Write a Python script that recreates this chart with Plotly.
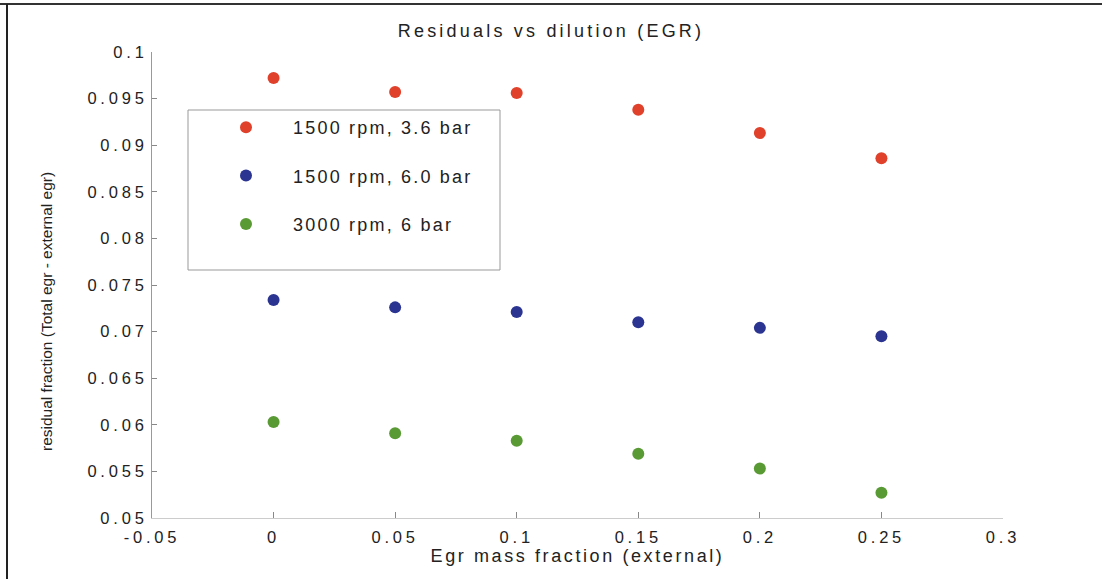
import plotly.graph_objects as go

egr = [0, 0.05, 0.1, 0.15, 0.2, 0.25]
names = ["1500 rpm, 3.6 bar", "1500 rpm, 6.0 bar", "3000 rpm, 6 bar"]
res_1500_36 = [0.0972, 0.0957, 0.0956, 0.0938, 0.0913, 0.0886]
res_1500_60 = [0.0734, 0.0726, 0.0721, 0.0710, 0.0704, 0.0695]
res_3000_6 = [0.0603, 0.0591, 0.0583, 0.0569, 0.0553, 0.0527]
colors = ["#e0412b", "#2b3591", "#5a9a35"]
x_ticks = [-0.05, 0, 0.05, 0.1, 0.15, 0.2, 0.25, 0.3]
x_labels = ["-0.05", "0", "0.05", "0.1", "0.15", "0.2", "0.25", "0.3"]
y_ticks = [0.05, 0.055, 0.06, 0.065, 0.07, 0.075, 0.08, 0.085, 0.09, 0.095, 0.1]
y_labels = ["0.05", "0.055", "0.06", "0.065", "0.07", "0.075", "0.08",
            "0.085", "0.09", "0.095", "0.1"]
y_title = "residual fraction (Total egr - external egr)"

W, H = 1102, 579
L, R, T, B = 152, 99, 52, 61
pw, ph = W - L - R, H - T - B

def px(x):
    return (x - L) / pw

def py(y):
    return (H - B - y) / ph

def sp(text, ls):
    return '<span style="letter-spacing:%spx">%s</span>' % (ls, text)

fig = go.Figure()
for i, ys in enumerate([res_1500_36, res_1500_60, res_3000_6]):
    fig.add_trace(go.Scatter(
        x=egr, y=ys, mode="markers", name=sp(names[i], 2.2), legendgroup=str(i),
        marker=dict(color=colors[i], size=12, line=dict(width=0)),
    ))

font = "Liberation Sans, Arial, sans-serif"
fig.update_layout(
    width=W, height=H,
    margin=dict(l=L, r=R, t=T, b=B),
    paper_bgcolor="white", plot_bgcolor="white",
    font=dict(family=font, size=17, color="#222"),
    title=dict(text=sp("Residuals vs dilution (EGR)", 3.2), x=0.5, xanchor="center",
               y=1 - 31 / H, yanchor="middle", font=dict(size=18, color="#222")),
    showlegend=True,
    legend=dict(x=px(199), y=py(109), xanchor="left", yanchor="top",
                bgcolor="rgba(0,0,0,0)", borderwidth=0,
                font=dict(size=18, color="#222"),
                tracegroupgap=22, traceorder="grouped", itemwidth=84),
    xaxis=dict(range=[-0.05, 0.3], tickvals=x_ticks,
               ticktext=[sp(t, 3.8) for t in x_labels],
               showgrid=False, zeroline=False, showline=True, linecolor="#cccccc",
               ticks="inside", ticklen=6, tickcolor="#888", mirror=False,
               ticklabelstandoff=4,
               title=dict(text=sp("Egr mass fraction (external)", 2.6), standoff=0,
                          font=dict(size=18)),
               tickfont=dict(size=16.5)),
    yaxis=dict(range=[0.05, 0.1], tickvals=y_ticks,
               ticktext=[sp(t, 3.8) for t in y_labels],
               showgrid=False, zeroline=False, showline=True, linecolor="#999999",
               ticks="inside", ticklen=5, tickcolor="#888",
               tickfont=dict(size=16.5)),
    annotations=[
        dict(text=y_title, xref="paper", yref="paper", x=px(46), y=py(312),
             xanchor="center", yanchor="middle", textangle=-90, showarrow=False,
             font=dict(size=15.5, color="#222")),
    ],
    shapes=[
        dict(type="rect", xref="paper", yref="paper", x0=px(188), x1=px(500),
             y0=py(270), y1=py(110), line=dict(color="#999999", width=1)),
        dict(type="line", xref="paper", yref="paper", x0=px(0), x1=px(W),
             y0=py(4), y1=py(4), line=dict(color="#333333", width=2)),
        dict(type="line", xref="paper", yref="paper", x0=px(7), x1=px(7),
             y0=py(4), y1=py(H), line=dict(color="#222222", width=2)),
    ],
)

fig.write_html("out.html", config={"displayModeBar": False})
